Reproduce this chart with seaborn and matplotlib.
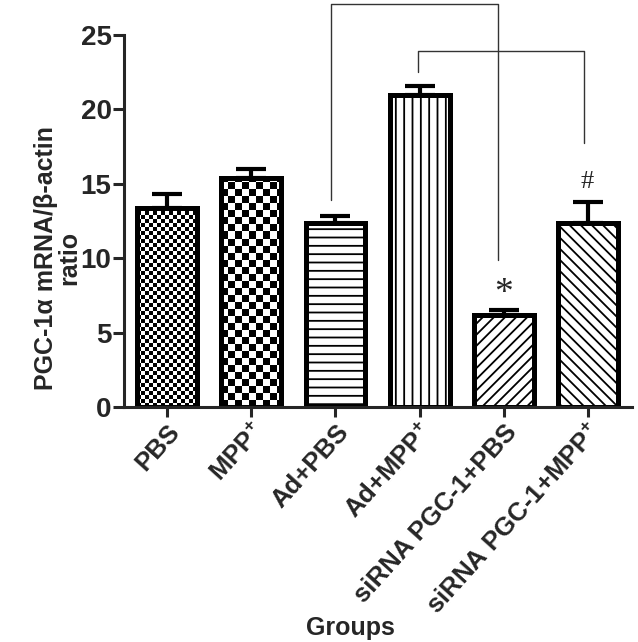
import numpy as np
import pandas as pd
import matplotlib
matplotlib.use("Agg")
import matplotlib.pyplot as plt
import seaborn as sns

# values
groups = ["PBS", "MPP$^{+}$", "Ad+PBS", "Ad+MPP$^{+}$",
          "siRNA PGC-1+PBS", "siRNA PGC-1+MPP$^{+}$"]
ratio = [13.4, 15.4, 12.4, 21.0, 6.2, 12.4]
sem = [0.9, 0.6, 0.45, 0.6, 0.3, 1.4]
# fill style per bar: checker cell size in px, or a hatch
fills = [("check", 4), ("check", 7), ("hatch", "--"), ("hatch", "||"),
         ("hatch", "///"), ("hatch", "\\\\\\")]

df = pd.DataFrame({"Group": groups, "Ratio": ratio})

sns.set_style("ticks")
plt.rcParams["font.family"] = ["Liberation Sans", "DejaVu Sans"]
plt.rcParams["font.weight"] = "bold"
plt.rcParams["mathtext.fontset"] = "custom"
plt.rcParams["mathtext.rm"] = "Liberation Sans:bold"
plt.rcParams["mathtext.bf"] = "Liberation Sans:bold"
plt.rcParams["mathtext.default"] = "bf"
plt.rcParams["hatch.linewidth"] = 1.3

fig = plt.figure(figsize=(6.38, 6.42), dpi=100)
ax = fig.add_axes([0.1944, 0.3656, 0.796, 0.58])

sns.barplot(data=df, x="Group", y="Ratio", color="white", edgecolor="black",
            linewidth=3.6, width=0.71, errorbar=None, ax=ax)

xpx = 84.2   # px per category
ypx = 14.89  # px per unit
for i, (p, (kind, val)) in enumerate(zip(ax.patches, fills)):
    p.set_facecolor("none")
    if kind == "hatch":
        p.set_hatch(val)
        continue
    cx = val / xpx
    cy = val / ypx
    x0 = p.get_x()
    w = p.get_width()
    h = p.get_height()
    nx = int(np.ceil(w / cx))
    ny = int(np.ceil(h / cy))
    board = (np.add.outer(np.arange(ny), np.arange(nx)) % 2).astype(float)
    im = ax.imshow(board, cmap="gray", interpolation="nearest", origin="lower",
                   extent=(x0, x0 + nx * cx, 0, ny * cy), aspect="auto",
                   zorder=p.get_zorder() - 0.1)
    im.set_clip_path(p)

ax.errorbar(range(len(groups)), ratio, yerr=[np.zeros(len(sem)), sem],
            fmt="none", ecolor="black", elinewidth=3, capsize=11, capthick=3,
            zorder=0.5)

ax.set_xlim(-0.51, 5.52)
ax.set_ylim(0, 25)
ax.set_yticks([0, 5, 10, 15, 20, 25])
sns.despine(ax=ax)
for s in ["left", "bottom"]:
    ax.spines[s].set_linewidth(2.2)
ax.tick_params(axis="y", length=8, width=2.2, labelsize=20, pad=1)
ax.tick_params(axis="x", length=7, width=2.2, labelsize=18.5, pad=2)
plt.setp(ax.get_xticklabels(), rotation=48, ha="right", rotation_mode="anchor",
         fontweight="bold")
plt.setp(ax.get_yticklabels(), fontweight="bold")

ax.set_ylabel("PGC-1α mRNA/β-actin\nratio", fontsize=18, fontweight="bold",
              linespacing=0.92)
ax.yaxis.set_label_coords(-0.085, 0.40)
ax.set_xlabel("Groups", fontsize=18, fontweight="bold", va="center")
ax.xaxis.set_label_coords(0.445, -0.592)

# comparison brackets
ax.plot([1.95, 1.95, 3.93, 3.93], [13.9, 27.1, 27.1, 9.9], color="#333333",
        lw=1.0, clip_on=False)
ax.plot([2.98, 2.98, 4.95, 4.95], [22.5, 23.95, 23.95, 17.75], color="#333333",
        lw=1.0, clip_on=False)
ax.text(4.0, 7.6, "*", ha="center", va="center", fontsize=27,
        family="Liberation Serif", fontweight="normal")
ax.text(4.99, 15.1, "#", ha="center", va="center", fontsize=19,
        family="Liberation Serif", fontweight="normal")

fig.savefig("out.png", dpi=100)
